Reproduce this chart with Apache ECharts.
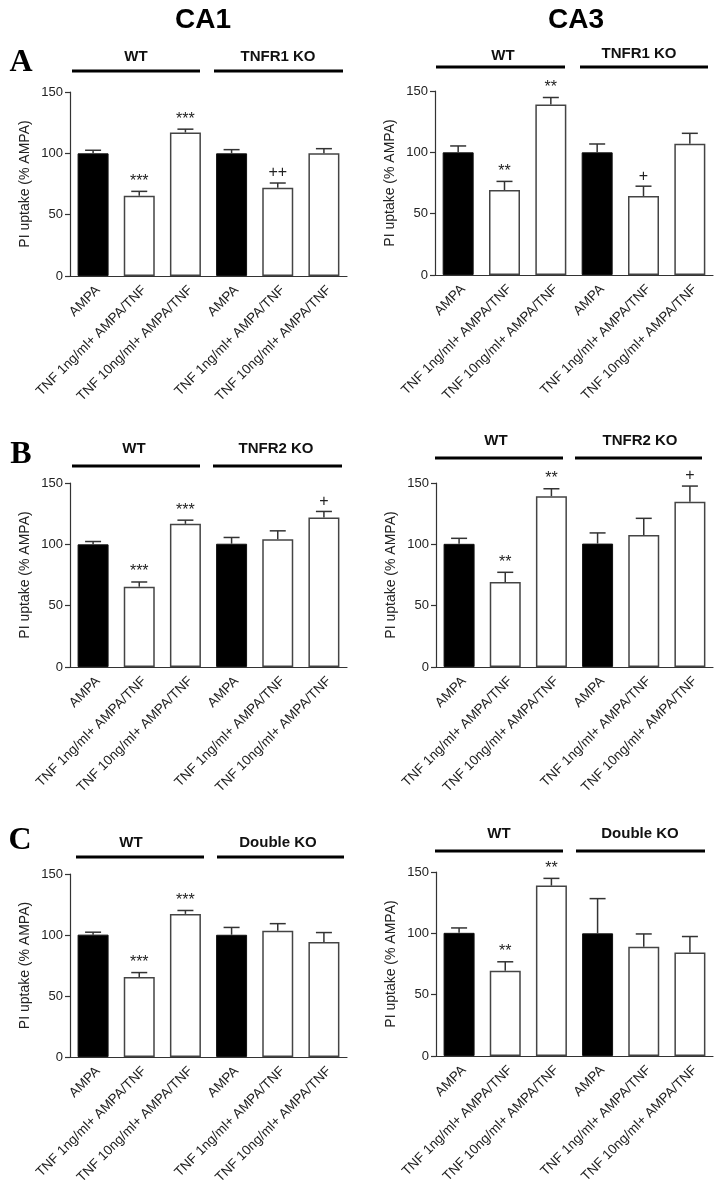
<!DOCTYPE html>
<html><head><meta charset="utf-8">
<script src="https://cdn.jsdelivr.net/npm/echarts@6/dist/echarts.min.js"></script>
<style>html,body{margin:0;padding:0;background:#fff}#c{width:718px;height:1199px}</style>
</head><body><div id="c"></div>
<script>
// ---------- data ----------
const categories = ['AMPA', 'TNF 1ng/ml+ AMPA/TNF', 'TNF 10ng/ml+ AMPA/TNF', 'AMPA', 'TNF 1ng/ml+ AMPA/TNF', 'TNF 10ng/ml+ AMPA/TNF'];
const yTicks = [0, 50, 100, 150];
const yTitle = 'PI uptake (% AMPA)';
const columnTitles = ['CA1', 'CA3'];
const rowLetters = ['A', 'B', 'C'];

const groupsA = ['WT', 'TNFR1 KO'];
const groupsB = ['WT', 'TNFR2 KO'];
const groupsC = ['WT', 'Double KO'];

const meanA_CA1 = [100, 65.5, 117, 100, 72, 100];
const semA_CA1  = [2.5, 3.5, 2.7, 3.0, 3.8, 3.8];
const sigA_CA1  = ['', '***', '***', '', '++', ''];

const meanA_CA3 = [100, 69.3, 139, 100, 64.4, 107];
const semA_CA3  = [5.2, 7.0, 5.7, 6.8, 8.0, 8.5];
const sigA_CA3  = ['', '**', '**', '', '+', ''];

const meanB_CA1 = [100, 65.5, 116.7, 100.5, 104.2, 121.9];
const semB_CA1  = [2.3, 3.8, 3.0, 5.1, 6.8, 4.9];
const sigB_CA1  = ['', '***', '***', '', '', '+'];

const meanB_CA3 = [100.4, 69.3, 139.3, 100.6, 107.6, 134.7];
const semB_CA3  = [4.5, 7.9, 6.0, 8.7, 13.6, 12.8];
const sigB_CA3  = ['', '**', '**', '', '', '+'];

const meanC_CA1 = [100.3, 65.6, 117.3, 100.2, 103.5, 94.3];
const semC_CA1  = [2.0, 3.6, 2.8, 6.0, 5.8, 7.7];
const sigC_CA1  = ['', '***', '***', '', '', ''];

const meanC_CA3 = [100.4, 69.4, 138.9, 100, 89, 84.3];
const semC_CA3  = [4.0, 7.4, 5.9, 28.3, 10.5, 13.1];
const sigC_CA3  = ['', '**', '**', '', '', ''];

// ---------- layout ----------
const SANS = '"Liberation Sans", Arial, sans-serif';
const SERIF = '"Liberation Serif", "Times New Roman", serif';
const panels = [
  {mean: meanA_CA1, sem: semA_CA1, sig: sigA_CA1, groups: groupsA, grid: {left: 70, top: 92, width: 277, height: 184},
   lab: [[136, 57], [278, 57]], lines: [[72, 200, 71], [214, 343, 71]]},
  {mean: meanA_CA3, sem: semA_CA3, sig: sigA_CA3, groups: groupsA, grid: {left: 435, top: 91, width: 278, height: 184},
   lab: [[503, 56], [639, 54]], lines: [[436, 565, 67], [580, 708, 67]]},
  {mean: meanB_CA1, sem: semB_CA1, sig: sigB_CA1, groups: groupsB, grid: {left: 70, top: 483, width: 277, height: 184},
   lab: [[134, 449], [276, 449]], lines: [[72, 200, 466], [213, 342, 466]]},
  {mean: meanB_CA3, sem: semB_CA3, sig: sigB_CA3, groups: groupsB, grid: {left: 436, top: 483, width: 277, height: 184},
   lab: [[496, 441], [640, 441]], lines: [[435, 563, 458], [575, 702, 458]]},
  {mean: meanC_CA1, sem: semC_CA1, sig: sigC_CA1, groups: groupsC, grid: {left: 70, top: 874, width: 277, height: 183},
   lab: [[131, 843], [278, 843]], lines: [[76, 204, 857], [217, 344, 857]]},
  {mean: meanC_CA3, sem: semC_CA3, sig: sigC_CA3, groups: groupsC, grid: {left: 436, top: 872, width: 277, height: 184},
   lab: [[499, 834], [640, 834]], lines: [[435, 563, 851], [576, 705, 851]]}
];
const titlePos = [[203, 20], [576, 20]];
const letterPos = [[21, 63], [21, 455], [20, 841]];

const AXIS = '#333';
const grids = [], xAxes = [], yAxes = [], series = [], graphics = [];

panels.forEach((p, k) => {
  grids.push(Object.assign({containLabel: false}, p.grid));
  xAxes.push({
    type: 'category', gridIndex: k, data: categories,
    axisLine: {lineStyle: {color: AXIS, width: 1.2}},
    axisTick: {alignWithLabel: true, length: 5, lineStyle: {color: AXIS, width: 1.2}},
    axisLabel: {rotate: 45, interval: 0, margin: 7, fontSize: 13.5, color: '#222', fontFamily: SANS,
                align: 'right', verticalAlign: 'top'},
    splitLine: {show: false}
  });
  yAxes.push({
    type: 'value', gridIndex: k, min: yTicks[0], max: yTicks[yTicks.length - 1], interval: yTicks[1] - yTicks[0],
    axisLine: {show: true, lineStyle: {color: AXIS, width: 1.2}},
    axisTick: {show: true, length: 5, lineStyle: {color: AXIS, width: 1.2}},
    axisLabel: {fontSize: 13, color: '#222', fontFamily: SANS, margin: 7},
    splitLine: {show: false},
    name: yTitle, nameLocation: 'middle', nameGap: 38,
    nameTextStyle: {fontSize: 14, color: '#222', fontFamily: SANS}
  });
  series.push({
    type: 'bar', xAxisIndex: k, yAxisIndex: k, barWidth: 31,
    data: p.mean.map((v, i) => ({
      value: v,
      itemStyle: categories[i] === 'AMPA'
        ? {color: '#000', borderColor: '#111', borderWidth: 1}
        : {color: '#fff', borderColor: '#444', borderWidth: 1.5}
    })),
    silent: true
  });
  const sig = p.sig;
  series.push({
    type: 'custom', xAxisIndex: k, yAxisIndex: k, z: 5, silent: true,
    data: p.mean.map((v, i) => [i, v, p.sem[i]]),
    renderItem: function (params, api) {
      const i = api.value(0), m = api.value(1), e = api.value(2);
      const base = api.coord([i, m]);
      const top = api.coord([i, m + e]);
      const cap = 8;
      const children = [
        {type: 'line', shape: {x1: top[0], y1: base[1], x2: top[0], y2: top[1]}, style: {stroke: '#333', lineWidth: 1.5}},
        {type: 'line', shape: {x1: top[0] - cap, y1: top[1], x2: top[0] + cap, y2: top[1]}, style: {stroke: '#333', lineWidth: 1.5}}
      ];
      const s = sig[params.dataIndex];
      if (s) {
        children.push({type: 'text', x: top[0], y: top[1] - 2,
          style: {text: s, fill: '#222', font: '16px ' + SANS, align: 'center', verticalAlign: 'bottom'}});
      }
      return {type: 'group', children: children};
    }
  });
  p.groups.forEach((g, j) => {
    graphics.push({type: 'text', x: p.lab[j][0], y: p.lab[j][1],
      style: {text: g, fill: '#111', font: 'bold 15px ' + SANS, align: 'center', verticalAlign: 'middle'}});
    const L = p.lines[j];
    graphics.push({type: 'line', shape: {x1: L[0], y1: L[2], x2: L[1], y2: L[2]}, style: {stroke: '#000', lineWidth: 3}});
  });
});

columnTitles.forEach((t, i) => graphics.push({type: 'text', x: titlePos[i][0], y: titlePos[i][1],
  style: {text: t, fill: '#000', font: 'bold 28px ' + SANS, align: 'center', verticalAlign: 'middle'}}));
rowLetters.forEach((t, i) => graphics.push({type: 'text', x: letterPos[i][0], y: letterPos[i][1],
  style: {text: t, fill: '#000', font: 'bold 32px ' + SERIF, align: 'center', verticalAlign: 'middle'}}));

const chart = echarts.init(document.getElementById('c'), null, {renderer: 'canvas'});
chart.setOption({
  backgroundColor: '#fff',
  animation: false,
  grid: grids, xAxis: xAxes, yAxis: yAxes, series: series,
  graphic: graphics
});
</script>
</body></html>
